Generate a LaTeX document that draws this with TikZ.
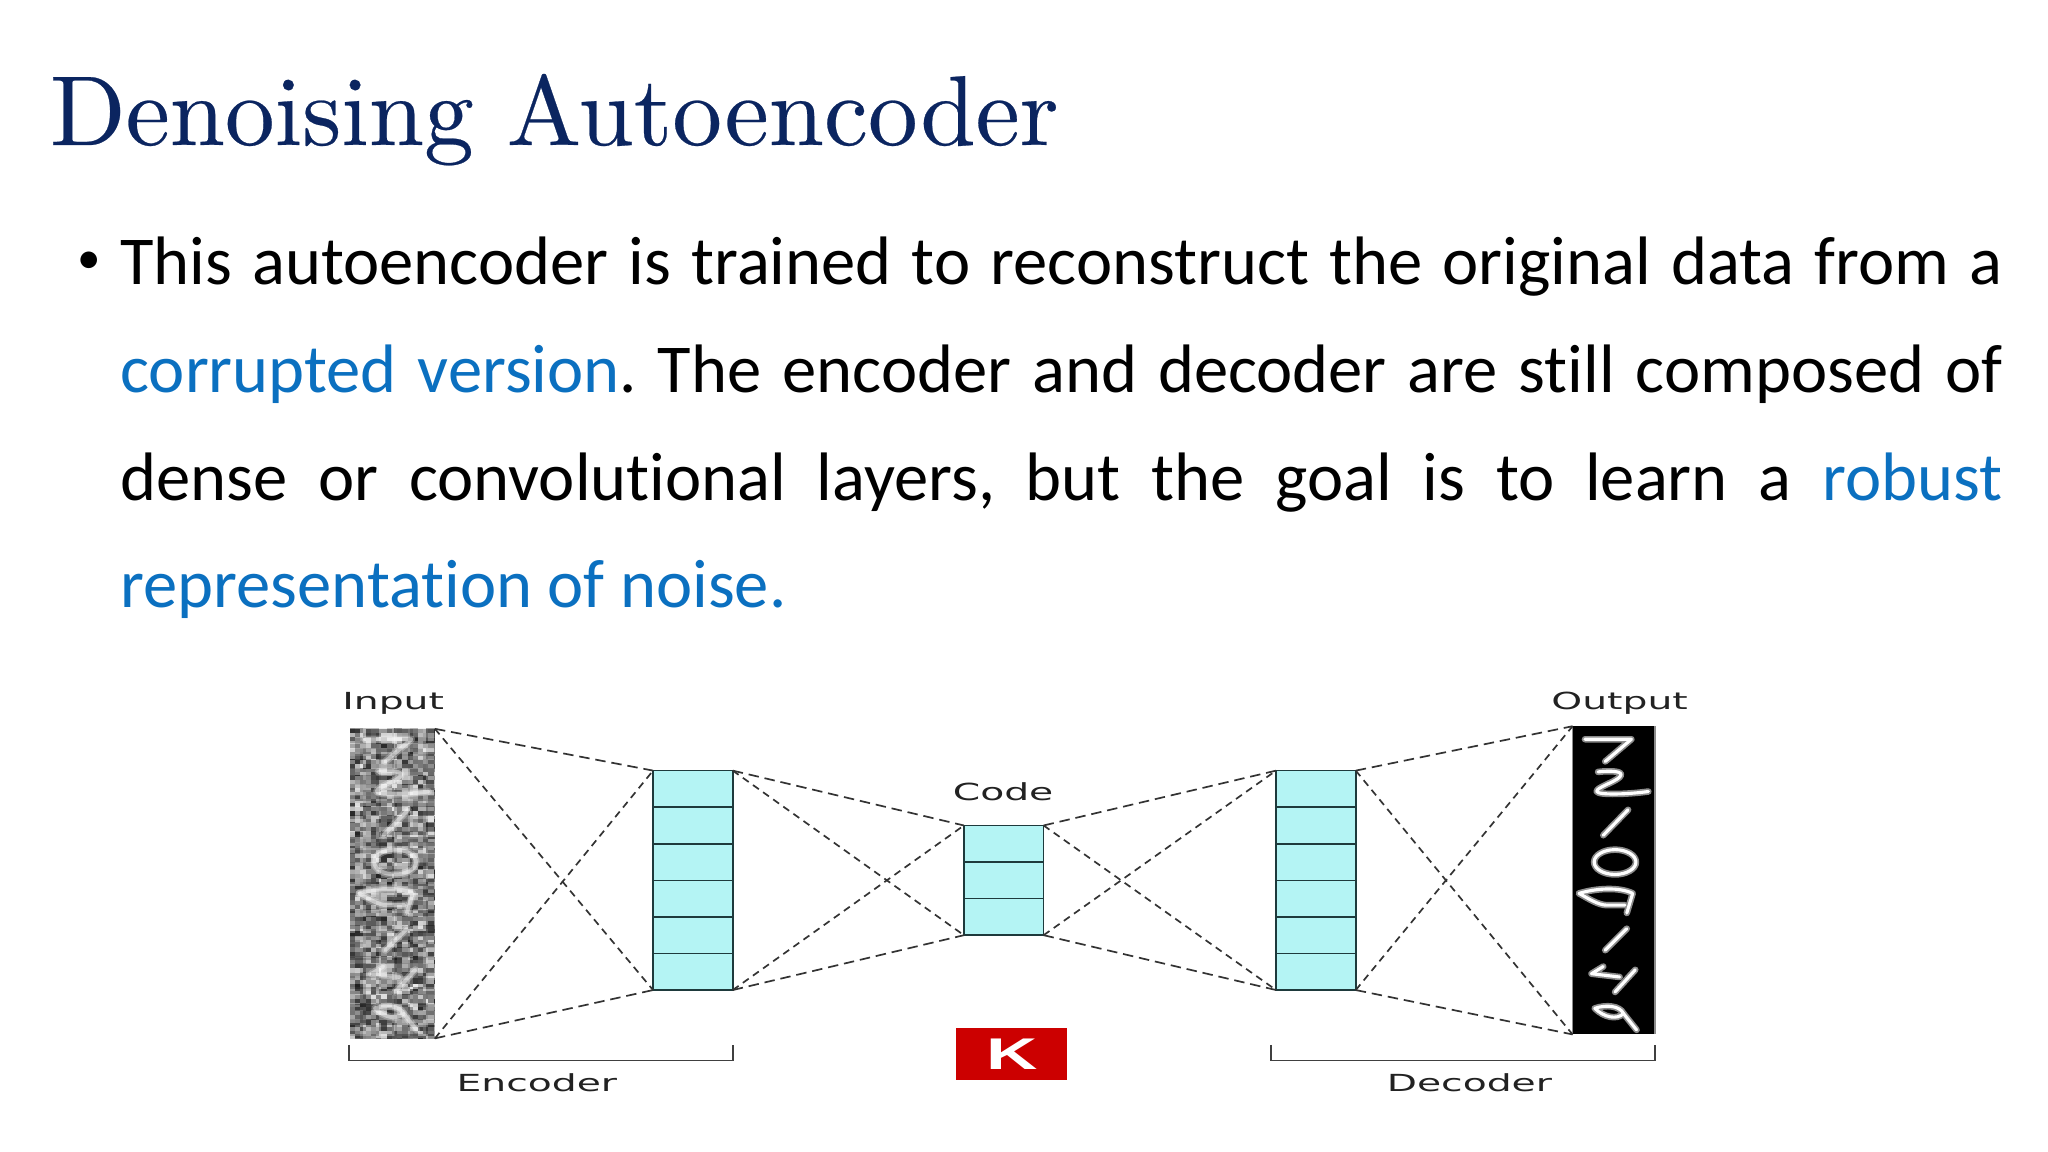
\documentclass[tikz,border=0pt]{standalone}
\usepackage{fontspec}
\usepackage{graphicx}
\usetikzlibrary{calc}
\setmainfont{Latin Modern Roman}
\newfontfamily\titlefont[FakeBold=0.25]{lmroman10-regular.otf}
\newfontfamily\bodyfont[Ligatures=NoCommon]{Carlito}
\newfontfamily\labelfont{DejaVu Sans}
\newfontfamily\kfont{Liberation Sans}
\definecolor{titlenavy}{HTML}{0B2560}
\definecolor{linkblue}{HTML}{0B70C0}
\definecolor{barcyan}{HTML}{B4F4F4}
\definecolor{barline}{HTML}{1E3A3C}
\definecolor{kred}{HTML}{CC0000}
\definecolor{labelgray}{HTML}{222222}
\newcommand{\fitline}[1]{\makebox[1441pt][s]{\frenchspacing #1}}
\newcommand{\bl}[1]{\textcolor{linkblue}{#1}}
\newcommand{\lbl}[1]{\scalebox{1.67}[1]{#1}}
\newcommand{\mnistdigits}{%
  \draw (1213.5,566) -- (1249,566) -- (1229,583);
  \draw (1223.5,591) .. controls (1232,590) and (1245,590) .. (1240,595) .. controls (1236,599) and (1222,603) .. (1222.5,606) .. controls (1224,609) and (1248,608) .. (1262,606);
  \draw (1246.5,620) -- (1227.5,639.5);
  \draw (1236.5,660) ellipse [x radius=16, y radius=9.5];
  \draw (1209,684) .. controls (1222,680) and (1240,679) .. (1250,684) -- (1245.5,699);
  \draw (1209,684) .. controls (1216,688) and (1224,693) .. (1230,693) -- (1244,693);
  \draw (1245.5,711) -- (1229,727.5);
  \draw (1227.5,740) -- (1218.5,745.5) -- (1240,748);
  \draw (1252,742.5) -- (1236.5,759.5);
  \draw (1221,772) .. controls (1230,769) and (1240,770) .. (1243,776) .. controls (1238,781) and (1228,779) .. (1221,772);
  \draw (1243,776) -- (1253,788.5);
}
\tikzset{
  x=1pt,y=-1pt,
  bar/.style={draw=barline,fill=barcyan,line width=1.3pt,inner sep=0pt,outer sep=0pt,minimum width=61pt},
  divider/.style={draw=barline,line width=1.2pt},
  linkflat/.style={draw=black!80,line width=1.3pt,dash pattern=on 8pt off 4.5pt},
  linksteep/.style={draw=black!80,line width=1.3pt,dash pattern=on 5.5pt off 4pt},
  brace line/.style={draw=black!75,line width=1.2pt},
  imgbox/.style={inner sep=0pt,outer sep=0pt,anchor=north west},
  caplabel/.style={font=\labelfont\fontsize{18}{20}\selectfont,text=labelgray,inner sep=0pt},
  textline/.style={anchor=base west,inner sep=0pt,font=\bodyfont\fontsize{52.5}{56}\selectfont},
}
\begin{document}
\begin{tikzpicture}
\useasboundingbox (0,0) rectangle (1568,882);
\fill[white] (0,0) rectangle (1568,882);

\node[anchor=base west,inner sep=0pt,text=titlenavy,font=\titlefont\fontsize{76}{84}\selectfont] (title) at (38,111) {Denoising Autoencoder};

\node[anchor=center,inner sep=0pt,font=\bodyfont\fontsize{36}{36}\selectfont] (bullet) at (68.5,201) {•};
\node[textline] (l1) at (92,218) {\fitline{This autoencoder is trained to reconstruct the original data from a}};
\node[textline] (l2) at (92,300.5) {\fitline{\bl{corrupted version}. The encoder and decoder are still composed of}};
\node[textline] (l3) at (92,383) {\fitline{dense or convolutional layers, but the goal is to learn a \bl{robust}}};
\node[textline] (l4) at (92,465) {\bl{representation of noise.}};

% Input image: noisy digits
\node[imgbox,minimum width=65pt,minimum height=237pt] (input) at (268,558) {};
\begin{scope}
  \clip (268,558) rectangle (333,795);
  \fill[black!50] (268,558) rectangle (333,795);
  \pgfmathsetseed{4711}
  \foreach \i in {0,...,16} \foreach \j in {0,...,79} {
    \pgfmathsetmacro{\g}{10+80*rnd}
    \fill[black!\g!white] (268+\i*4,558+\j*3) rectangle ++(4.1,3.1);
  }
  \foreach \i in {0,...,11} \foreach \j in {0,...,59} {
    \pgfmathsetmacro{\g}{5+85*rnd}
    \fill[black!\g!white,opacity=.5] (266+\i*6,557+\j*4) rectangle ++(6.1,4.1);
  }
  \begin{scope}[xshift=-934pt,draw=white,opacity=.28,line width=5.5pt,line cap=round,line join=round]
    \mnistdigits
  \end{scope}
  \begin{scope}[xshift=-934pt,draw=white,opacity=.45,line width=3pt,line cap=round,line join=round]
    \mnistdigits
  \end{scope}
\end{scope}

% Output image: clean digits
\node[imgbox,fill=black,minimum width=63pt,minimum height=236pt] (output) at (1204,556) {};
\begin{scope}[draw=white!55!black,line width=5pt,line cap=round,line join=round]
  \mnistdigits
\end{scope}
\begin{scope}[draw=white,line width=2.4pt,line cap=round,line join=round]
  \mnistdigits
\end{scope}
\draw[black!45,line width=1pt] (output.north west) -- (output.south west);
\draw[black!45,line width=1pt] (output.north east) -- (output.south east);

% Layers
\node[bar,minimum height=168pt,anchor=north west] (enc) at (500,590) {};
\node[bar,minimum height=84pt,anchor=north west] (code) at (738,632) {};
\node[bar,minimum height=168pt,anchor=north west] (dec) at (977,590) {};
\foreach \b in {enc,dec} \foreach \i in {1,...,5}
  \draw[divider] ($(\b.north west)!\i/6!(\b.south west)$) -- ($(\b.north east)!\i/6!(\b.south east)$);
\foreach \i in {1,2}
  \draw[divider] ($(code.north west)!\i/3!(code.south west)$) -- ($(code.north east)!\i/3!(code.south east)$);

% Connectors
\draw[linkflat] (input.north east) -- (enc.north west);
\draw[linksteep] (input.north east) -- (enc.south west);
\draw[linksteep] (input.south east) -- (enc.north west);
\draw[linkflat] (input.south east) -- (enc.south west);
\draw[linkflat] (enc.north east) -- (code.north west);
\draw[linksteep] (enc.north east) -- (code.south west);
\draw[linksteep] (enc.south east) -- (code.north west);
\draw[linkflat] (enc.south east) -- (code.south west);
\draw[linkflat] (code.north east) -- (dec.north west);
\draw[linksteep] (code.north east) -- (dec.south west);
\draw[linksteep] (code.south east) -- (dec.north west);
\draw[linkflat] (code.south east) -- (dec.south west);
\draw[linkflat] (dec.north east) -- (output.north west);
\draw[linksteep] (dec.north east) -- (output.south west);
\draw[linksteep] (dec.south east) -- (output.north west);
\draw[linkflat] (dec.south east) -- (output.south west);

% Labels
\node[caplabel] (inlabel) at (301,538.5) {\lbl{Input}};
\node[caplabel] (outlabel) at (1240,538.5) {\lbl{Output}};
\node[caplabel] (codelabel) at (768,606) {\lbl{Code}};
\node[caplabel] (enclabel) at (411,829) {\lbl{Encoder}};
\node[caplabel] (declabel) at (1125,829) {\lbl{Decoder}};

% Brackets
\coordinate (ea) at (267,800); \coordinate (eb) at (561,800);
\coordinate (da) at (973,800); \coordinate (db) at (1267,800);
\draw[brace line] (ea) -- ++(0,12) -| (eb);
\draw[brace line] (da) -- ++(0,12) -| (db);

% Badge
\node[fill=kred,text=white,inner sep=0pt,minimum width=85pt,minimum height=40pt,anchor=north west,font=\kfont\bfseries\fontsize{34}{34}\selectfont] (badge) at (732,787) {\scalebox{1.6}[1]{K}};
\end{tikzpicture}
\end{document}
